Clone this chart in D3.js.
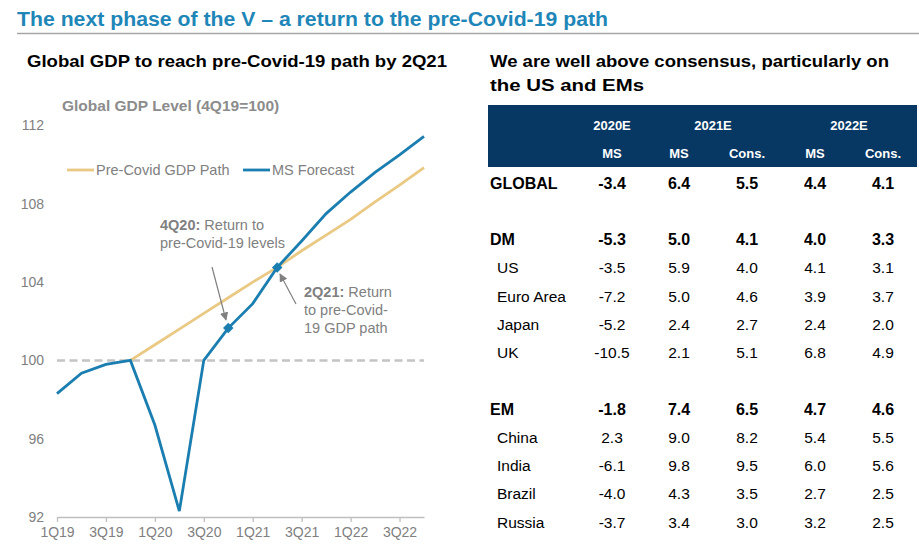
<!DOCTYPE html>
<html>
<head>
<meta charset="utf-8">
<script src="https://cdn.jsdelivr.net/npm/d3@7"></script>
<style>
  body { margin: 0; background: #fff; }
  svg { display: block; font-family: "Liberation Sans", Arial, sans-serif; }
</style>
</head>
<body>
<svg id="chart" width="919" height="557"></svg>
<script>
// quarters on the x axis (index 0 = 1Q19)
var quarters = ['1Q19','2Q19','3Q19','4Q19','1Q20','2Q20','3Q20','4Q20',
                '1Q21','2Q21','3Q21','4Q21','1Q22','2Q22','3Q22','4Q22'];
var tickQuarters = [0, 2, 4, 6, 8, 10, 12, 14];

// MS forecast, global GDP level (4Q19=100)
var msForecast = [98.3, 99.35, 99.8, 100.0, 96.7, 92.3, 100.0, 101.65,
                  102.9, 104.75, 106.1, 107.5, 108.6, 109.6, 110.5, 111.45];
// pre-covid path, starts at 4Q19
var preCovidStart = 3;
var preCovidPath = [100.0, 100.8, 101.6, 102.4, 103.2, 104.0, 104.75,
                    105.6, 106.4, 107.2, 108.1, 108.95, 109.85];
var markerQuarters = [7, 9];
var yTicks = [92, 96, 100, 104, 108, 112];

// table
var regions  = ['GLOBAL','DM','US','Euro Area','Japan','UK','EM','China','India','Brazil','Russia'];
var rowSlot  = [0, 2, 3, 4, 5, 6, 8, 9, 10, 11, 12];
var boldRow  = [true, true, false, false, false, false, true, false, false, false, false];
var ms2020   = ['-3.4','-5.3','-3.5','-7.2','-5.2','-10.5','-1.8','2.3','-6.1','-4.0','-3.7'];
var ms2021   = ['6.4','5.0','5.9','5.0','2.4','2.1','7.4','9.0','9.8','4.3','3.4'];
var cons2021 = ['5.5','4.1','4.0','4.6','2.7','5.1','6.5','8.2','9.5','3.5','3.0'];
var ms2022   = ['4.4','4.0','4.1','3.9','2.4','6.8','4.7','5.4','6.0','2.7','3.2'];
var cons2022 = ['4.1','3.3','3.1','3.7','2.0','4.9','4.6','5.5','5.6','2.5','2.5'];
var yearHeads = ['2020E','2021E','2022E'];
var colHeads  = ['MS','MS','Cons.','MS','Cons.'];

var blue = '#1b7eb0', gold = '#e9c983', grey = '#808080';

var svg = d3.select('#chart');

// page title + rule
svg.append('text')
   .attr('x', 17).attr('y', 26)
   .attr('font-size', 20).attr('font-weight', 'bold')
   .attr('fill', '#1f86b8')
   .attr('textLength', 591).attr('lengthAdjust', 'spacingAndGlyphs')
   .text('The next phase of the V \u2013 a return to the pre-Covid-19 path');
svg.append('line')
   .attr('x1', 17).attr('x2', 919).attr('y1', 33.5).attr('y2', 33.5)
   .attr('stroke', '#a6a6a6').attr('stroke-width', 1.5);

svg.append('text')
   .attr('x', 27).attr('y', 67)
   .attr('font-size', 16.5).attr('font-weight', 'bold').attr('fill', '#000')
   .attr('textLength', 420).attr('lengthAdjust', 'spacingAndGlyphs')
   .text('Global GDP to reach pre-Covid-19 path by 2Q21');
svg.append('text')
   .attr('x', 490).attr('y', 67)
   .attr('font-size', 16.5).attr('font-weight', 'bold').attr('fill', '#000')
   .attr('textLength', 399).attr('lengthAdjust', 'spacingAndGlyphs')
   .text('We are well above consensus, particularly on');
svg.append('text')
   .attr('x', 490).attr('y', 91)
   .attr('font-size', 16.5).attr('font-weight', 'bold').attr('fill', '#000')
   .attr('textLength', 154).attr('lengthAdjust', 'spacingAndGlyphs')
   .text('the US and EMs');

// ---- chart ----
var x = d3.scaleLinear().domain([0, 15]).range([57, 424]);
var y = d3.scaleLinear().domain([92, 112]).range([517, 125.5]);

var g = svg.append('g');

g.append('text')
 .attr('x', 62).attr('y', 111)
 .attr('font-size', 15.5).attr('font-weight', 'bold').attr('fill', '#8c8c8c')
 .text('Global GDP Level (4Q19=100)');

// y labels
var yAxis = g.append('g')
  .attr('transform', 'translate(44,0)')
  .call(d3.axisLeft(y).tickValues(yTicks).tickSize(0).tickPadding(0));
yAxis.select('.domain').remove();
yAxis.selectAll('text').attr('font-size', 14).attr('fill', grey)
     .attr('font-family', '"Liberation Sans", Arial, sans-serif');

// x axis
var xAxis = g.append('g')
  .attr('transform', 'translate(0,' + y(92) + ')')
  .call(d3.axisBottom(x).tickValues(tickQuarters)
          .tickFormat(function(i){ return quarters[i]; })
          .tickSizeOuter(0).tickSizeInner(5).tickPadding(5));
xAxis.select('.domain').attr('stroke', '#bfbfbf').attr('stroke-width', 1.3);
xAxis.selectAll('.tick line').attr('stroke', '#bfbfbf').attr('stroke-width', 1.3);
xAxis.selectAll('text').attr('font-size', 14).attr('fill', grey)
     .attr('font-family', '"Liberation Sans", Arial, sans-serif');

// 100 reference line
g.append('line')
 .attr('x1', x(0)).attr('x2', x(15)).attr('y1', y(100)).attr('y2', y(100))
 .attr('stroke', '#c4c4c4').attr('stroke-width', 2.5)
 .attr('stroke-dasharray', '8,4.5');

var line = d3.line().x(function(d){ return x(d[0]); }).y(function(d){ return y(d[1]); });

g.append('path')
 .datum(preCovidPath.map(function(v, i){ return [i + preCovidStart, v]; }))
 .attr('d', line).attr('fill', 'none')
 .attr('stroke', gold).attr('stroke-width', 2.8);

g.append('path')
 .datum(msForecast.map(function(v, i){ return [i, v]; }))
 .attr('d', line).attr('fill', 'none')
 .attr('stroke', blue).attr('stroke-width', 2.8);

g.selectAll('.mark')
 .data(markerQuarters)
 .enter().append('path')
 .attr('class', 'mark')
 .attr('d', d3.symbol().type(d3.symbolSquare).size(55))
 .attr('transform', function(i){ return 'translate(' + x(i) + ',' + y(msForecast[i]) + ') rotate(45)'; })
 .attr('fill', blue);

// legend
var legend = [{name: 'Pre-Covid GDP Path', color: gold, x: 67},
              {name: 'MS Forecast', color: blue, x: 243}];
legend.forEach(function(l) {
  g.append('line').attr('x1', l.x).attr('x2', l.x + 27).attr('y1', 170).attr('y2', 170)
   .attr('stroke', l.color).attr('stroke-width', 2.8);
  g.append('text').attr('x', l.x + 29).attr('y', 175)
   .attr('font-size', 14.5).attr('fill', grey).text(l.name);
});

// annotations
svg.append('defs').append('marker')
   .attr('id', 'arr').attr('viewBox', '0 0 10 10').attr('refX', 9).attr('refY', 5)
   .attr('markerWidth', 7).attr('markerHeight', 7).attr('orient', 'auto')
   .append('path').attr('d', 'M0,0L10,5L0,10z').attr('fill', grey);

function note(lines, tx, ty, from, to) {
  var t = g.append('text').attr('x', tx).attr('y', ty)
           .attr('font-size', 14.5).attr('fill', grey);
  lines.forEach(function(ln, k) {
    var ts = t.append('tspan').attr('x', tx).attr('dy', k ? 18 : 0);
    if (ln[0]) ts.append('tspan').attr('font-weight', 'bold').text(ln[0]);
    ts.append('tspan').text(ln[1]);
  });
  g.append('line')
   .attr('x1', from[0]).attr('y1', from[1]).attr('x2', to[0]).attr('y2', to[1])
   .attr('stroke', grey).attr('stroke-width', 1.2).attr('marker-end', 'url(#arr)');
}
note([['4Q20:', ' Return to'], ['', 'pre-Covid-19 levels']], 160, 230,
     [212, 267], [226, 320]);
note([['2Q21:', ' Return'], ['', 'to pre-Covid-'], ['', '19 GDP path']], 304, 297,
     [296, 304], [280, 274]);

// ---- table ----
var cols = [612, 679, 747, 815, 883];
var yRow = d3.scaleLinear().domain([0, 12]).range([183, 522]);

var t = svg.append('g');
t.append('rect').attr('x', 488).attr('y', 105).attr('width', 429).attr('height', 62)
 .attr('fill', '#073763');

var headX = [cols[0], (cols[1] + cols[2]) / 2, (cols[3] + cols[4]) / 2];
t.selectAll('.yh').data(yearHeads).enter().append('text')
 .attr('x', function(d, i){ return headX[i]; }).attr('y', 130)
 .attr('text-anchor', 'middle').attr('font-size', 13).attr('font-weight', 'bold')
 .attr('fill', '#fff').text(function(d){ return d; });
t.selectAll('.ch').data(colHeads).enter().append('text')
 .attr('x', function(d, i){ return cols[i]; }).attr('y', 158)
 .attr('text-anchor', 'middle').attr('font-size', 13).attr('font-weight', 'bold')
 .attr('fill', '#fff').text(function(d){ return d; });

var colData = [ms2020, ms2021, cons2021, ms2022, cons2022];
regions.forEach(function(r, i) {
  var row = t.append('g')
    .attr('transform', 'translate(0,' + (yRow(rowSlot[i]) + 5.5) + ')')
    .attr('font-size', boldRow[i] ? 16 : 15.5)
    .attr('font-weight', boldRow[i] ? 'bold' : 'normal')
    .attr('fill', '#000');
  row.append('text').attr('x', boldRow[i] ? 490 : 497).text(r);
  colData.forEach(function(c, j) {
    row.append('text').attr('x', cols[j]).attr('text-anchor', 'middle').text(c[i]);
  });
});
</script>
</body>
</html>
